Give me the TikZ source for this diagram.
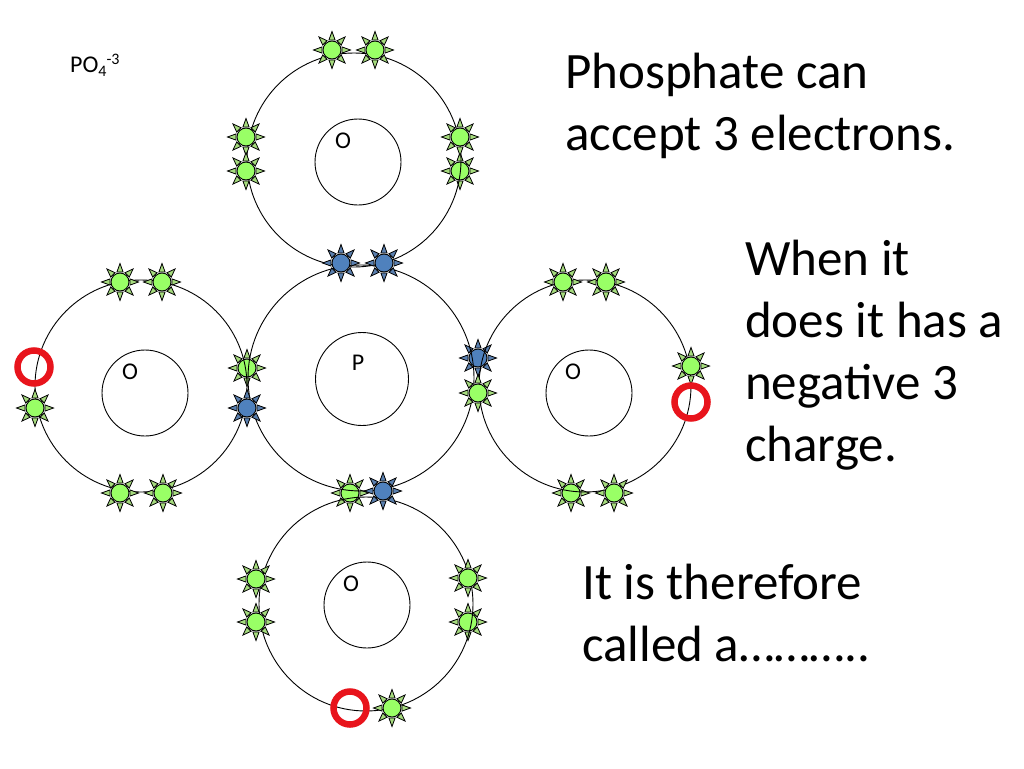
\documentclass[tikz,border=0pt]{standalone}
\usepackage{fontspec}
\setmainfont{Carlito}
\definecolor{sungreen}{HTML}{99FF66}
\definecolor{raygreen}{HTML}{A6DB7E}
\definecolor{sunblue}{HTML}{4F81BD}
\definecolor{rayblue}{HTML}{5A7FAE}
\definecolor{ringred}{HTML}{E8141C}
\tikzset{
  orbit/.style={circle,draw=black,line width=0.9pt,inner sep=0pt,minimum size=#1},
  nucleus/.style={circle,draw=black,line width=0.9pt,fill=white,inner sep=0pt,minimum size=#1},
  redring/.style={circle,draw=ringred,line width=6.5pt,inner sep=0pt,minimum size=33pt},
  small/.style={font=\fontsize{24}{28}\selectfont,inner sep=0pt},
  big/.style={font=\fontsize{51}{62}\selectfont,align=left,anchor=north west,inner sep=0pt},
}
% \sunmark{name}{x,y}{core colour}{ray colour}
\newcommand{\sunmark}[4]{%
  \foreach \a in {0,45,...,315}{%
    \draw[black,line width=0.8pt,fill=#4,line join=miter]
      ($(#2)+(\a:18.5)$) -- ($(#2)+(\a+17:10.5)$) -- ($(#2)+(\a-17:10.5)$) -- cycle;
  }
  \node[circle,draw=black,line width=0.9pt,fill=#3,inner sep=0pt,minimum size=18pt] (#1) at (#2) {};
}
\newcommand{\gsun}[2]{\sunmark{#1}{#2}{sungreen}{raygreen}}
\newcommand{\bsun}[2]{\sunmark{#1}{#2}{sunblue}{rayblue}}
\usetikzlibrary{calc}
\begin{document}
\begin{tikzpicture}[x=1pt,y=-1pt]
\useasboundingbox (0,0) rectangle (1024,768);
\fill[white] (0,0) rectangle (1024,768);
% suns that lie under the orbit lines
\gsun{t4}{460,171}
\gsun{cg}{247,368}
\bsun{cb}{478,358}
\gsun{bg}{350,493}
\gsun{b4}{468,622}
\gsun{r5}{571,493}
% orbits
\node[orbit=214pt] (otop) at (354,160) {};
\node[orbit=226pt] (op) at (361,378) {};
\node[orbit=212pt] (oleft) at (141,386) {};
\node[orbit=212pt] (oright) at (585,386) {};
\node[orbit=214pt] (obot) at (366,604) {};
% nuclei
\node[nucleus=86pt] (ntop) at (358,162) {};
\node[nucleus=93pt] (np) at (362,379) {};
\node[nucleus=86pt] (nleft) at (145,393) {};
\node[nucleus=86pt] (nright) at (589,393) {};
\node[nucleus=86pt] (nbot) at (367,605) {};
% suns above the orbit lines
\gsun{t1}{332,50}
\gsun{t2}{375,50}
\gsun{t3}{246,137}
\gsun{t5}{246,171}
\gsun{t6}{460,137}
\bsun{p1}{341,263}
\bsun{p2}{384,263}
\gsun{l1}{120,282}
\gsun{l2}{162,282}
\gsun{l3}{35,408}
\gsun{l4}{120,493}
\gsun{l5}{163,493}
\bsun{pl}{247,408}
\gsun{r1}{563,282}
\gsun{r2}{606,282}
\gsun{r3}{691,366}
\gsun{r4}{614,493}
\gsun{pr}{478,393}
\bsun{pb}{383,491}
\gsun{b1}{256,579}
\gsun{b2}{256,622}
\gsun{b3}{468,578}
\gsun{b5}{392,708}
% red rings
\node[redring] (ra) at (34,367) {};
\node[redring] (rb) at (691,402) {};
\node[redring] (rc) at (350,708) {};
% labels
\node[small] (lt) at (343,141) {O};
\node[small] (lp) at (358,363) {P};
\node[small] (ll) at (130,372) {O};
\node[small] (lr) at (573,372) {O};
\node[small] (lb) at (351,584) {O};
\node[small,anchor=west] (formula) at (70,65) {PO\raisebox{-4pt}{\fontsize{16}{18}\selectfont 4}\raisebox{8pt}{\fontsize{16}{18}\selectfont -3}};
\node[big] (t1x) at (565,53) {Phosphate can\\accept 3 electrons.};
\node[big] (t2x) at (745,240) {When it\\does it has a\\negative 3\\charge.};
\node[big] (t3x) at (582,564) {It is therefore\\called a………..};
\end{tikzpicture}
\end{document}
